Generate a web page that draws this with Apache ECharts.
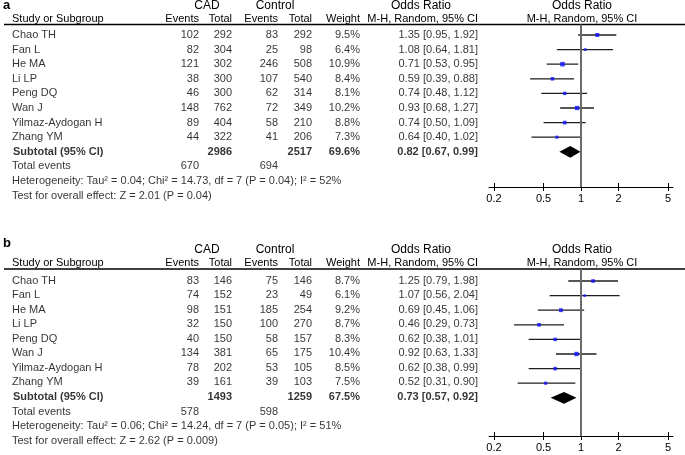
<!DOCTYPE html>
<html><head><meta charset="utf-8">
<script src="https://cdn.jsdelivr.net/npm/echarts@6/dist/echarts.min.js"></script>
<style>html,body{margin:0;padding:0;background:#fff}#c{width:685px;height:455px}</style>
</head><body><div id="c"></div>
<script>
// ---------- data ----------
const studies = ['Chao TH','Fan L','He MA','Li LP','Peng DQ','Wan J','Yilmaz-Aydogan H','Zhang YM'];
const tickValues = [0.2, 0.5, 1, 2, 5];
const tickLabels = ['0.2', '0.5', '1', '2', '5'];

// panel a
const cadEventsA = [102, 82, 121, 38, 46, 148, 89, 44];
const cadTotalA  = [292, 304, 302, 300, 300, 762, 404, 322];
const ctlEventsA = [83, 25, 246, 107, 62, 72, 58, 41];
const ctlTotalA  = [292, 98, 508, 540, 314, 349, 210, 206];
const weightA    = [9.5, 6.4, 10.9, 8.4, 8.1, 10.2, 8.8, 7.3];
const orA        = [1.35, 1.08, 0.71, 0.59, 0.74, 0.93, 0.74, 0.64];
const loA        = [0.95, 0.64, 0.53, 0.39, 0.48, 0.68, 0.50, 0.40];
const hiA        = [1.92, 1.81, 0.95, 0.88, 1.12, 1.27, 1.09, 1.02];
const subTotalsA = [2986, 2517];
const subWeightA = 69.6;
const subOrA     = [0.82, 0.67, 0.99];
const totalEventsA = [670, 694];
const hetA  = 'Heterogeneity: Tau\u00b2 = 0.04; Chi\u00b2 = 14.73, df = 7 (P = 0.04); I\u00b2 = 52%';
const testA = 'Test for overall effect: Z = 2.01 (P = 0.04)';

// panel b
const cadEventsB = [83, 74, 98, 32, 40, 134, 78, 39];
const cadTotalB  = [146, 152, 151, 150, 150, 381, 202, 161];
const ctlEventsB = [75, 23, 185, 100, 58, 65, 53, 39];
const ctlTotalB  = [146, 49, 254, 270, 157, 175, 105, 103];
const weightB    = [8.7, 6.1, 9.2, 8.7, 8.3, 10.4, 8.5, 7.5];
const orB        = [1.25, 1.07, 0.69, 0.46, 0.62, 0.92, 0.62, 0.52];
const loB        = [0.79, 0.56, 0.45, 0.29, 0.38, 0.63, 0.38, 0.31];
const hiB        = [1.98, 2.04, 1.06, 0.73, 1.01, 1.33, 0.99, 0.90];
const subTotalsB = [1493, 1259];
const subWeightB = 67.5;
const subOrB     = [0.73, 0.57, 0.92];
const totalEventsB = [578, 598];
const hetB  = 'Heterogeneity: Tau\u00b2 = 0.06; Chi\u00b2 = 14.24, df = 7 (P = 0.05); I\u00b2 = 51%';
const testB = 'Test for overall effect: Z = 2.62 (P = 0.009)';

// ---------- layout ----------
const FONT = '"Liberation Sans", Arial, sans-serif';
const STEP = 14.6;
const W = 685;
const COL = {name: 12, cadE: 199, cadT: 232, ctlE: 278, ctlT: 312, wt: 360, orTxt: 478};
const PLOT = {left: 489, width: 184, min: 0.1824, max: 5.48};

const panels = [
  {tag: 'a', tagY: 5, groupY: 6, headY: 19, lineY: 24.5, y0: 35, axisY: 187,
   cadE: cadEventsA, cadT: cadTotalA, ctlE: ctlEventsA, ctlT: ctlTotalA, wt: weightA,
   or: orA, lo: loA, hi: hiA, subT: subTotalsA, subW: subWeightA, subOr: subOrA,
   tot: totalEventsA, het: hetA, test: testA},
  {tag: 'b', tagY: 243, groupY: 250, headY: 263, lineY: 269, y0: 281, axisY: 436,
   cadE: cadEventsB, cadT: cadTotalB, ctlE: ctlEventsB, ctlT: ctlTotalB, wt: weightB,
   or: orB, lo: loB, hi: hiB, subT: subTotalsB, subW: subWeightB, subOr: subOrB,
   tot: totalEventsB, het: hetB, test: testB}
];

const grid = [], xAxis = [], yAxis = [], series = [], graphic = [];

function gtext(x, y, text, align, extra) {
  graphic.push({type: 'text', x: x, y: y, silent: true,
    style: Object.assign({text: text, fontSize: 11, fontFamily: FONT, fill: '#000',
      align: align || 'left', verticalAlign: 'middle'}, extra || {})});
}
const orText = (o, l, h) => o.toFixed(2) + ' [' + l.toFixed(2) + ', ' + h.toFixed(2) + ']';

panels.forEach((P, pi) => {
  const tg = grid.length;
  grid.push({left: 0, width: W, top: P.y0 - STEP, height: 13 * STEP});
  grid.push({left: PLOT.left, width: PLOT.width, top: P.lineY, height: P.axisY - P.lineY});
  const fg = tg + 1;

  const tx = xAxis.length;
  xAxis.push({gridIndex: tg, type: 'value', min: 0, max: W, show: false});
  xAxis.push({gridIndex: fg, type: 'log', logBase: 10, min: PLOT.min, max: PLOT.max, position: 'bottom',
    axisLine: {show: true, onZero: false, lineStyle: {color: '#000', width: 1}},
    axisTick: {show: true, customValues: tickValues, length: 4, lineStyle: {color: '#000', width: 1}},
    axisLabel: {show: true, customValues: tickValues, margin: 6, fontSize: 11, fontFamily: FONT, color: '#000',
      formatter: v => { const k = tickValues.findIndex(t => Math.abs(t - v) < 1e-6); return k >= 0 ? tickLabels[k] : ''; }},
    splitLine: {show: false}, minorTick: {show: false}});
  xAxis.push({gridIndex: fg, type: 'log', logBase: 10, min: PLOT.min, max: PLOT.max, position: 'bottom',
    axisLine: {show: false, onZero: false},
    axisTick: {show: true, inside: true, customValues: tickValues, length: 4, lineStyle: {color: '#000', width: 1}},
    axisLabel: {show: false}, splitLine: {show: false}});
  const fx = tx + 1;

  const ty = yAxis.length;
  yAxis.push({gridIndex: tg, type: 'value', min: -1, max: 12, inverse: true, show: false});
  yAxis.push({gridIndex: fg, type: 'value', min: (P.lineY - P.y0) / STEP, max: (P.axisY - P.y0) / STEP,
    inverse: true, show: false});
  const fy = ty + 1;

  function col(items, x, pos, bold) {
    series.push({type: 'scatter', xAxisIndex: tx, yAxisIndex: ty, silent: true, symbolSize: 0,
      itemStyle: {color: 'transparent'}, clip: false,
      data: items.map(it => ({value: [x, it[0]], name: String(it[1])})),
      label: {show: true, position: pos, distance: 0, formatter: '{b}', fontSize: 11,
        fontFamily: FONT, color: '#000', fontWeight: bold ? 'bold' : 'normal'}});
  }
  const rows = studies.map((s, i) => i);
  col(rows.map(i => [i, studies[i]]), COL.name, 'right');
  col(rows.map(i => [i, P.cadE[i]]), COL.cadE, 'left');
  col(rows.map(i => [i, P.cadT[i]]), COL.cadT, 'left');
  col(rows.map(i => [i, P.ctlE[i]]), COL.ctlE, 'left');
  col(rows.map(i => [i, P.ctlT[i]]), COL.ctlT, 'left');
  col(rows.map(i => [i, P.wt[i].toFixed(1) + '%']), COL.wt, 'left');
  col(rows.map(i => [i, orText(P.or[i], P.lo[i], P.hi[i])]), COL.orTxt, 'left');
  col([[8, 'Subtotal (95% CI)']], COL.name + 1, 'right', true);
  col([[8, P.subT[0]]], COL.cadT, 'left', true);
  col([[8, P.subT[1]]], COL.ctlT, 'left', true);
  col([[8, P.subW.toFixed(1) + '%']], COL.wt, 'left', true);
  col([[8, orText(P.subOr[0], P.subOr[1], P.subOr[2])]], COL.orTxt, 'left', true);
  col([[9, 'Total events'], [10, P.het], [11, P.test]], COL.name, 'right');
  col([[9, P.tot[0]]], COL.cadE, 'left');
  col([[9, P.tot[1]]], COL.ctlE, 'left');

  series.push({type: 'custom', xAxisIndex: fx, yAxisIndex: fy, silent: true, z: 3,
    data: rows.map(i => [P.lo[i], P.hi[i], i]),
    encode: {x: [0, 1], y: 2},
    renderItem: (params, api) => {
      const a = api.coord([api.value(0), api.value(2)]);
      const b = api.coord([api.value(1), api.value(2)]);
      return {type: 'line', shape: {x1: a[0], y1: a[1], x2: b[0], y2: b[1]},
        style: {stroke: '#1e1e1e', lineWidth: 1.3}};
    },
    markLine: {silent: true, symbol: ['none', 'none'], label: {show: false}, animation: false,
      lineStyle: {color: '#6b6b6b', width: 2, type: 'solid'}, data: [{xAxis: 1}]}});
  series.push({type: 'scatter', xAxisIndex: fx, yAxisIndex: fy, silent: true, z: 4,
    symbol: 'rect', data: rows.map(i => [P.or[i], i, P.wt[i]]),
    symbolSize: v => 0.42 * v[2],
    itemStyle: {color: '#1010ff'}});
  series.push({type: 'custom', xAxisIndex: fx, yAxisIndex: fy, silent: true, z: 4,
    data: [[P.subOr[1], P.subOr[0], P.subOr[2], 8]],
    encode: {x: [0, 1, 2], y: 3},
    renderItem: (params, api) => {
      const r = api.value(3), h = 0.4;
      const pts = [api.coord([api.value(0), r]), api.coord([api.value(1), r - h]),
                   api.coord([api.value(2), r]), api.coord([api.value(1), r + h])];
      return {type: 'polygon', shape: {points: pts}, style: {fill: '#000'}};
    }});

  gtext(3, P.tagY, P.tag, 'left', {fontSize: 13, fontWeight: 'bold'});
  gtext(207, P.groupY, 'CAD', 'center', {fontSize: 12});
  gtext(275, P.groupY, 'Control', 'center', {fontSize: 12});
  gtext(COL.name, P.headY, 'Study or Subgroup', 'left');
  gtext(COL.cadE, P.headY, 'Events', 'right');
  gtext(COL.cadT, P.headY, 'Total', 'right');
  gtext(COL.ctlE, P.headY, 'Events', 'right');
  gtext(COL.ctlT, P.headY, 'Total', 'right');
  gtext(COL.wt, P.headY, 'Weight', 'right');
  gtext(421, P.groupY, 'Odds Ratio', 'center', {fontSize: 12});
  gtext(COL.orTxt, P.headY, 'M-H, Random, 95% CI', 'right');
  gtext(582, P.groupY, 'Odds Ratio', 'center', {fontSize: 12});
  gtext(582, P.headY, 'M-H, Random, 95% CI', 'center');
  graphic.push({type: 'line', silent: true, shape: {x1: 4, y1: P.lineY, x2: W, y2: P.lineY},
    style: {stroke: '#000', lineWidth: 1.5}});
});

const chart = echarts.init(document.getElementById('c'), null, {renderer: 'canvas'});
chart.setOption({
  animation: false,
  backgroundColor: '#fff',
  grid: grid, xAxis: xAxis, yAxis: yAxis, series: series, graphic: graphic
});
</script></body></html>
